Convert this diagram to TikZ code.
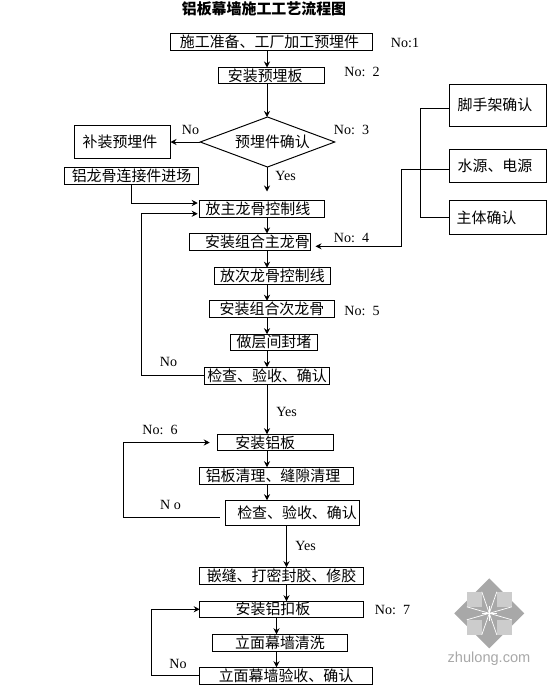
\documentclass[tikz,border=0pt]{standalone}
\usepackage{fontspec}
\setmainfont{Liberation Serif}
\newfontfamily\cjk{Noto Sans CJK SC}
\newfontfamily\marksans{Liberation Sans}
\usepackage{xcolor}
\usepackage{tikz}
\usetikzlibrary{shapes.geometric, arrows.meta, positioning, calc}
\definecolor{markgray}{HTML}{A8A8A8}
\definecolor{marklight}{HTML}{CCCCCC}

\begin{document}
\begin{tikzpicture}[
  procbox/.style={
    draw=black, fill=white, line width=0.55pt, inner sep=0pt, outer sep=0pt,
    font=\fontsize{8.5}{10}\selectfont\cjk
  },
  decision/.style={procbox, diamond, shape aspect=2.69},
  note/.style={inner sep=0pt, font=\fontsize{8}{9}\selectfont},
  arrow/.style={-{Stealth[length=1.2mm,width=1.2mm]}, line width=0.55pt},
  link/.style={line width=0.55pt},
  markray/.style={white, line width=0.4pt}
]
  \useasboundingbox (0,0) rectangle (11,-13.74);

  \node[font=\fontsize{8.5}{10}\selectfont\cjk\bfseries, inner sep=0pt] (title) at (5.28,-0.18) {铝板幕墙施工工艺流程图};

  \coordinate (spine) at (5.34,0);
  \coordinate (lower) at (5.73,0);
  \coordinate (tail)  at (5.53,0);

  % main column
  \node[procbox, minimum width=4.04cm, minimum height=0.34cm] (prep)  at (5.43,-0.84)  {施工准备、工厂加工预埋件\hspace*{.08cm}};
  \node[procbox, minimum width=2.13cm, minimum height=0.32cm] (plate) at (5.43,-1.51)  {安装预埋板\hspace*{.25cm}};
  \node[decision, minimum width=2.69cm, minimum height=1cm]   (check) at (5.35,-2.84)  {\hspace{.2cm}预埋件确认};
  \node[procbox, minimum width=1.92cm, minimum height=0.65cm] (repair) at (2.45,-2.84) {补装预埋件\hspace*{.1cm}};
  \node[procbox, minimum width=2.69cm, minimum height=0.33cm] (conn)  at (2.63,-3.515) {铝龙骨连接件进场};
  \node[procbox, minimum width=2.51cm, minimum height=0.33cm] (mainline) at (5.24,-4.175) {放主龙骨控制线\hspace*{.16cm}};
  \node[procbox, minimum width=2.42cm, minimum height=0.34cm] (mainkeel) at (5.00,-4.84) {\hspace{.3cm}安装组合主龙骨};
  \node[procbox, minimum width=2.32cm, minimum height=0.34cm] (subline) at (5.45,-5.525) {放次龙骨控制线};
  \node[procbox, minimum width=2.51cm, minimum height=0.33cm] (subkeel) at (5.44,-6.18) {安装组合次龙骨};
  \node[procbox, minimum width=1.74cm, minimum height=0.32cm] (seal)  at (5.48,-6.845) {做层间封堵};
  \node[procbox, minimum width=2.49cm, minimum height=0.34cm] (inspecta) at (5.34,-7.515) {检查、验收、确认};
  \node[procbox, minimum width=2.32cm, minimum height=0.33cm] (panel) at (5.505,-8.85) {安装铝板\hspace*{.4cm}};
  \node[procbox, minimum width=3.07cm, minimum height=0.34cm] (clean) at (5.53,-9.515) {铝板清理、缝隙清理\hspace*{.14cm}};
  \node[procbox, minimum width=2.68cm, minimum height=0.50cm] (inspectb) at (5.85,-10.255) {\hspace{.18cm}检查、验收、确认};
  \node[procbox, minimum width=3.27cm, minimum height=0.34cm] (glue)  at (5.63,-11.515) {嵌缝、打密封胶、修胶};
  \node[procbox, minimum width=3.27cm, minimum height=0.32cm] (clip)  at (5.63,-12.185) {安装铝扣板\hspace*{.34cm}};
  \node[procbox, minimum width=2.69cm, minimum height=0.34cm] (wash)  at (5.60,-12.855) {立面幕墙清洗};
  \node[procbox, minimum width=3.45cm, minimum height=0.34cm] (accept) at (5.72,-13.515) {立面幕墙验收、确认};

  % right column
  \node[procbox, minimum width=1.94cm, minimum height=0.83cm] (scaffold) at (9.96,-2.105) {脚手架确认\hspace*{.12cm}};
  \node[procbox, minimum width=1.94cm, minimum height=0.66cm] (water) at (9.96,-3.32) {水源、电源\hspace*{.12cm}};
  \node[procbox, minimum width=1.94cm, minimum height=0.68cm] (body)  at (9.96,-4.35) {主体确认\hspace*{.46cm}};

  % labels
  \node[note] (no1) at (8.10,-0.86)  {No:1};
  \node[note] (no2) at (7.24,-1.44)  {No:\ \ 2};
  \node[note] (no3) at (7.03,-2.60)  {No:\ \ 3};
  \node[note] (no4) at (7.03,-4.76)  {No:\ \ 4};
  \node[note] (no5) at (7.24,-6.22)  {No:\ \ 5};
  \node[note] (no6) at (3.20,-8.60)  {No:\ \ 6};
  \node[note] (no7) at (7.85,-12.20) {No:\ \ 7};
  \node[note] (noa) at (3.81,-2.60)  {No};
  \node[note] (nob) at (3.37,-7.24)  {No};
  \node[note] (noc) at (3.41,-10.10) {N o};
  \node[note] (nod) at (3.56,-13.28) {No};
  \node[note] (yesa) at (5.71,-3.52)  {Yes};
  \node[note] (yesb) at (5.73,-8.24)  {Yes};
  \node[note] (yesc) at (6.11,-10.92) {Yes};

  % flow
  \draw[arrow] (prep.south -| spine) -- (plate.north -| spine);
  \draw[arrow] (plate.south -| spine) -- (check.north -| spine);
  \draw[arrow] (check.west) -- (repair.east);
  \draw[arrow, shorten >=.18cm] (check.south -| spine) -- (mainline.north -| spine);
  \draw[arrow, shorten >=.03cm] (conn.south) |- ([yshift=.115cm]mainline.west);
  \draw[arrow] (mainline.south -| spine) -- (mainkeel.north -| spine);
  \draw[arrow] (mainkeel.south -| spine) -- (subline.north -| spine);
  \draw[arrow] (subline.south -| spine) -- (subkeel.north -| spine);
  \draw[arrow] (subkeel.south -| spine) -- (seal.north -| spine);
  \draw[arrow] (seal.south -| spine) -- (inspecta.north -| spine);
  \draw[arrow, shorten >=.03cm] (inspecta.west) -- ++(-1.26,0) |- ([yshift=-.1cm]mainline.west);
  \draw[arrow] (inspecta.south -| spine) -- (panel.north -| spine);
  \draw[arrow] (panel.south -| spine) -- (clean.north -| spine);
  \draw[arrow] (clean.south -| spine) -- (inspectb.north -| spine);
  \draw[arrow, shorten <=.12cm, shorten >=.15cm] ([yshift=-.09cm]inspectb.west) -- ++(-2.05,0) |- (panel.west);
  \draw[arrow] (inspectb.south -| lower) -- (glue.north -| lower);
  \draw[arrow] (glue.south -| lower) -- (clip.north -| lower);
  \draw[arrow] (clip.south -| tail) -- (wash.north -| tail);
  \draw[arrow] (wash.south -| tail) -- (accept.north -| tail);
  \draw[arrow] (accept.west) -- ++(-.96,0) |- (clip.west);

  \draw[link] ([yshift=-.06cm]scaffold.west) -- ++(-.58,0) |- (body.west);
  \draw[arrow, shorten >=.1cm] ([yshift=-.066cm]water.west) -- ++(-.96,0) |- ([yshift=-.086cm]mainkeel.east);

  % site mark
  \fill[markgray] (9.786,-11.566) -- (10.486,-12.266) -- (9.786,-12.966) -- (9.086,-12.266) -- cycle;
  \fill[marklight] (9.336,-11.836) rectangle (9.636,-12.136);
  \fill[marklight] (9.936,-11.836) rectangle (10.236,-12.136);
  \fill[marklight] (9.336,-12.396) rectangle (9.636,-12.696);
  \fill[marklight] (9.936,-12.396) rectangle (10.236,-12.696);
  \draw[markray] (9.336,-12.136) -- (10.236,-12.396) (9.336,-12.396) -- (10.236,-12.136);
  \draw[markray] (9.636,-11.836) -- (9.936,-12.696) (9.936,-11.836) -- (9.636,-12.696);
  \draw[markray] (9.786,-12.12) -- (9.786,-12.41) (9.63,-12.266) -- (9.94,-12.266);
  \node[font=\fontsize{8.3}{10}\selectfont\marksans, text=markgray, inner sep=0pt] (site) at (9.78,-13.18) {zhulong.com};
\end{tikzpicture}
\end{document}
